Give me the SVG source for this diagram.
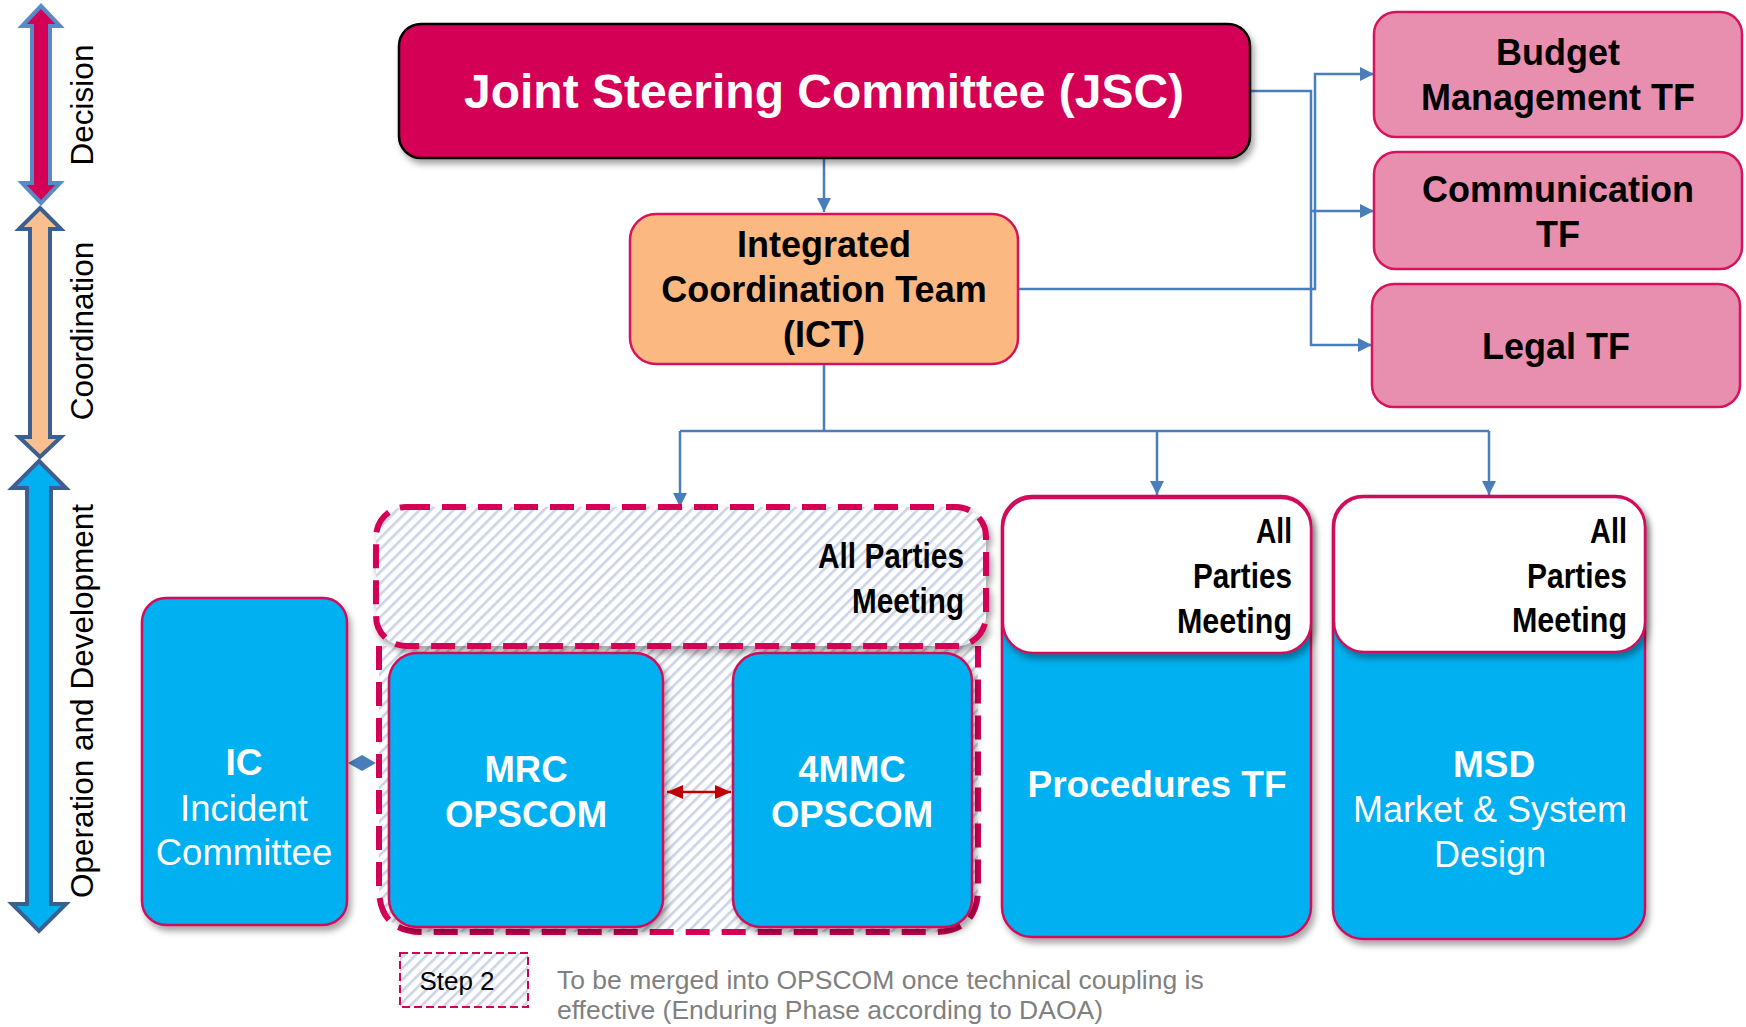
<svg xmlns="http://www.w3.org/2000/svg" width="1746" height="1027" viewBox="0 0 1746 1027">
<style>
.t{font-family:"Liberation Sans",Arial,sans-serif}
.b{font-weight:bold}
.c{text-anchor:middle}
.e{text-anchor:end}
.blue{fill:#00B0F0;stroke:#D0105A;stroke-width:2.5}
.pink{fill:#E88FB0;stroke:#D6135D;stroke-width:2.5}
.conn{fill:none;stroke:#4A7EBB;stroke-width:2.5}
.w{fill:#fff}
.k{fill:#000}
</style>
<defs>
<pattern id="hatch" width="8" height="8" patternUnits="userSpaceOnUse" patternTransform="rotate(45)">
<rect width="8" height="8" fill="#fff"/><rect width="2.6" height="8" fill="#CDD3E6"/>
</pattern>
<filter id="sh" x="-10%" y="-10%" width="125%" height="125%">
<feDropShadow dx="3" dy="5" stdDeviation="3" flood-color="#000" flood-opacity="0.35"/>
</filter>
<marker id="arr" markerWidth="14" markerHeight="14" refX="14" refY="7" orient="auto" markerUnits="userSpaceOnUse">
<path d="M0,0 L14,7 L0,14 z" fill="#4A7EBB"/>
</marker>
<marker id="rarr" markerWidth="16" markerHeight="14" refX="16" refY="7" orient="auto-start-reverse" markerUnits="userSpaceOnUse">
<path d="M0,0 L16,7 L0,14 z" fill="#C00000"/>
</marker>
</defs>
<rect width="1746" height="1027" fill="#fff"/>

<g id="axis">
<polygon points="41,6 60,26 50,26 50,183 60,183 41,203 22,183 32,183 32,26 22,26" fill="#D40055" stroke="#5A8AC6" stroke-width="4" stroke-linejoin="miter"/>
<polygon points="40,208 61,229 50,229 50,437 61,437 40,457 19,437 30,437 30,229 19,229" fill="#F9C08F" stroke="#3D5F8F" stroke-width="4"/>
<polygon points="39,461 66,488 51,488 51,904 66,904 39,931 12,904 27,904 27,488 12,488" fill="#00B0F0" stroke="#3D5F8F" stroke-width="4"/>
<text class="t c" font-size="31.5" transform="translate(93,105) rotate(-90)">Decision</text>
<text class="t c" font-size="31.5" transform="translate(93,331) rotate(-90)">Coordination</text>
<text class="t c" font-size="31.5" transform="translate(93,701) rotate(-90)">Operation and Development</text>
</g>

<g id="connectors">
<path class="conn" d="M824,158 V212" marker-end="url(#arr)"/>
<path class="conn" d="M1250,91 H1311 V345 H1372" marker-end="url(#arr)"/>
<path class="conn" d="M1311,211 H1374" marker-end="url(#arr)"/>
<path class="conn" d="M1018,289 H1315 V74 H1374" marker-end="url(#arr)"/>
<path class="conn" d="M824,364 V431 M680,431 H1489"/>
<path class="conn" d="M680,431 V507" marker-end="url(#arr)"/>
<path class="conn" d="M1157,431 V495" marker-end="url(#arr)"/>
<path class="conn" d="M1489,431 V495" marker-end="url(#arr)"/>
<polygon points="348,763 362,755 376,763 362,771" fill="#4A7EBB"/>
</g>

<g id="jsc">
<rect x="399" y="24" width="851" height="134" rx="22" fill="#D40055" stroke="#000" stroke-width="2.5" filter="url(#sh)"/>
<text class="t b c w" x="824" y="108" font-size="48">Joint Steering Committee (JSC)</text>
</g>

<g id="ict">
<rect x="630" y="214" width="388" height="150" rx="26" fill="#FBB880" stroke="#D6135D" stroke-width="2.5"/>
<text class="t b c k" x="824" y="257" font-size="36">Integrated</text>
<text class="t b c k" x="824" y="302" font-size="36">Coordination Team</text>
<text class="t b c k" x="824" y="347" font-size="36">(ICT)</text>
</g>

<g id="budget">
<rect class="pink" x="1374" y="12" width="368" height="125" rx="22"/>
<text class="t b c k" x="1558" y="65" font-size="36">Budget</text>
<text class="t b c k" x="1558" y="110" font-size="36">Management TF</text>
</g>
<g id="communication">
<rect class="pink" x="1374" y="152" width="368" height="117" rx="22"/>
<text class="t b c k" x="1558" y="202" font-size="36">Communication</text>
<text class="t b c k" x="1558" y="247" font-size="36">TF</text>
</g>
<g id="legal">
<rect class="pink" x="1372" y="284" width="368" height="123" rx="22"/>
<text class="t b c k" x="1556" y="359" font-size="36">Legal TF</text>
</g>

<g id="ic">
<rect class="blue" x="142" y="598" width="205" height="327" rx="24" filter="url(#sh)"/>
<text class="t b c w" x="244" y="775" font-size="37">IC</text>
<text class="t c w" x="244" y="821" font-size="36.5">Incident</text>
<text class="t c w" x="244" y="865" font-size="36.5">Committee</text>
</g>

<g id="step2-group">
<path d="M379,646 V888 Q379,932 423,932 H934 Q978,932 978,888 V646" fill="url(#hatch)" stroke="#D40055" stroke-width="6" stroke-dasharray="24,12"/>
<rect x="376" y="507" width="610" height="139" rx="30" fill="url(#hatch)" stroke="#D40055" stroke-width="6" stroke-dasharray="24,12" filter="url(#sh)"/>
<text class="t b e k" x="964" y="568" font-size="35" textLength="146" lengthAdjust="spacingAndGlyphs">All Parties</text>
<text class="t b e k" x="964" y="613" font-size="35" textLength="112" lengthAdjust="spacingAndGlyphs">Meeting</text>
</g>

<g id="mrc">
<rect class="blue" x="389" y="653" width="274" height="274" rx="28" filter="url(#sh)"/>
<text class="t b c w" x="526" y="782" font-size="36.5">MRC</text>
<text class="t b c w" x="526" y="827" font-size="36.5">OPSCOM</text>
</g>

<g id="mmc4">
<rect class="blue" x="733" y="653" width="239" height="274" rx="28" filter="url(#sh)"/>
<text class="t b c w" x="852" y="782" font-size="36.5">4MMC</text>
<text class="t b c w" x="852" y="827" font-size="36.5">OPSCOM</text>
</g>

<g id="mrc-4mmc-link">
<path d="M667,792 H731" fill="none" stroke="#C00000" stroke-width="2.5" marker-start="url(#rarr)" marker-end="url(#rarr)"/>
</g>

<g id="procedures">
<rect class="blue" x="1002" y="496" width="309" height="441" rx="30" filter="url(#sh)"/>
<rect x="1003" y="498" width="308" height="155" rx="30" fill="#fff" stroke="#D0105A" stroke-width="2.5" filter="url(#sh)"/>
<text class="t b e k" x="1292" y="543" font-size="35" textLength="36" lengthAdjust="spacingAndGlyphs">All</text>
<text class="t b e k" x="1292" y="588" font-size="35" textLength="99" lengthAdjust="spacingAndGlyphs">Parties</text>
<text class="t b e k" x="1292" y="633" font-size="35" textLength="115" lengthAdjust="spacingAndGlyphs">Meeting</text>
<text class="t b c w" x="1157" y="797" font-size="37">Procedures TF</text>
</g>

<g id="msd">
<rect class="blue" x="1333" y="496" width="312" height="443" rx="30" filter="url(#sh)"/>
<rect x="1334" y="497" width="311" height="155" rx="30" fill="#fff" stroke="#D0105A" stroke-width="2.5" filter="url(#sh)"/>
<text class="t b e k" x="1627" y="543" font-size="35" textLength="37" lengthAdjust="spacingAndGlyphs">All</text>
<text class="t b e k" x="1627" y="588" font-size="35" textLength="100" lengthAdjust="spacingAndGlyphs">Parties</text>
<text class="t b e k" x="1627" y="632" font-size="35" textLength="115" lengthAdjust="spacingAndGlyphs">Meeting</text>
<text class="t b c w" x="1494" y="777" font-size="37">MSD</text>
<text class="t c w" x="1490" y="822" font-size="36">Market &amp; System</text>
<text class="t c w" x="1490" y="867" font-size="36">Design</text>
</g>

<g id="legend">
<rect x="400" y="953" width="128" height="54" fill="url(#hatch)" stroke="#D40055" stroke-width="2" stroke-dasharray="8,4"/>
<text class="t c k" x="457" y="990" font-size="26">Step 2</text>
<text class="t" x="557" y="989" font-size="26.5" fill="#808080">To be merged into OPSCOM once technical coupling is</text>
<text class="t" x="557" y="1019" font-size="26.5" fill="#808080">effective (Enduring Phase according to DAOA)</text>
</g>
</svg>
